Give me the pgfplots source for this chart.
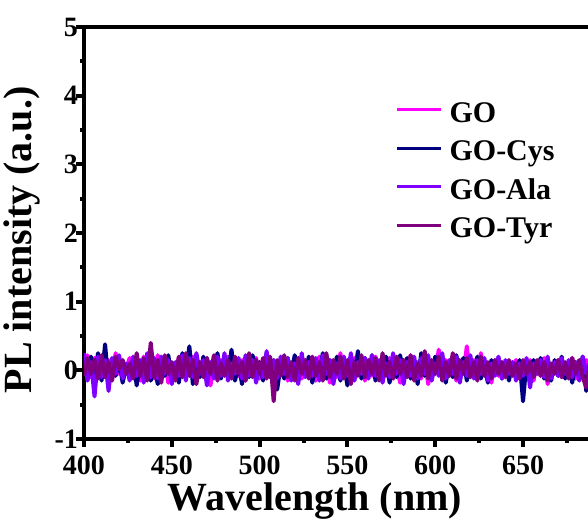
\documentclass[border=0pt]{standalone}
\usepackage{fontspec}
\setmainfont{Liberation Serif}
\usepackage{pgfplots}
\usepackage{pgfplotstable}
\pgfplotsset{compat=1.18}
\definecolor{cGO}{HTML}{FF00FF}
\definecolor{cCys}{HTML}{000080}
\definecolor{cAla}{HTML}{8000FF}
\definecolor{cTyr}{HTML}{800080}
\pgfplotstableread{
x GO Cys Ala Tyr
400 0.05 0.10 0.25 -0.08
402 0.22 -0.12 -0.15 0.18
404 -0.10 0.20 0.12 -0.05
406 0.18 -0.05 -0.38 0.15
408 -0.05 0.25 0.20 -0.12
410 0.20 -0.15 -0.10 0.22
412 -0.08 0.38 0.15 -0.10
414 0.15 -0.20 -0.30 0.12
416 -0.12 0.10 0.18 -0.15
418 0.25 -0.08 -0.05 0.20
420 -0.05 0.15 0.22 0.02
422 0.12 -0.18 -0.12 0.15
424 0.02 0.05 0.10 -0.05
426 0.18 -0.10 -0.15 0.10
428 -0.10 0.18 0.20 -0.12
430 0.10 -0.22 -0.08 0.25
432 -0.15 0.12 0.15 -0.08
434 0.20 -0.05 -0.18 0.18
436 -0.05 0.20 0.25 -0.15
438 0.12 -0.15 -0.10 0.40
440 -0.12 0.08 0.18 -0.10
442 0.22 -0.20 -0.12 0.15
444 -0.08 0.15 0.20 -0.18
446 0.15 -0.08 -0.05 0.22
448 -0.18 0.22 0.15 -0.05
450 0.10 -0.12 -0.20 0.12
452 -0.05 0.08 0.12 -0.15
454 0.18 -0.18 -0.08 0.20
456 -0.10 0.25 0.22 -0.10
458 0.15 -0.05 -0.15 0.25
460 -0.08 0.35 0.18 -0.08
462 0.20 -0.20 -0.10 0.15
464 -0.15 0.15 0.25 -0.20
466 0.12 -0.10 -0.05 0.12
468 -0.05 0.20 0.15 -0.10
470 0.18 -0.15 -0.22 0.18
472 -0.22 0.10 0.12 -0.05
474 0.08 -0.08 -0.12 0.22
476 -0.12 0.25 0.20 -0.15
478 0.15 -0.12 -0.08 0.10
480 -0.05 0.18 0.25 -0.08
482 0.20 -0.05 -0.15 0.15
484 -0.10 0.30 0.10 -0.12
486 0.12 -0.15 -0.05 0.20
488 -0.08 0.10 0.18 -0.05
490 0.15 -0.20 -0.12 0.12
492 -0.15 0.15 0.22 -0.15
494 0.10 -0.10 -0.08 0.25
496 -0.05 0.22 0.15 -0.10
498 0.18 -0.08 -0.18 0.15
500 -0.12 0.12 0.10 -0.05
502 0.08 -0.15 -0.10 0.18
504 -0.05 0.25 0.28 -0.12
506 0.15 -0.10 -0.08 0.20
508 -0.10 0.15 0.15 -0.45
510 0.12 -0.28 -0.12 0.15
512 -0.08 0.08 0.20 -0.08
514 0.20 -0.12 -0.05 0.22
516 -0.15 0.18 0.18 -0.10
518 0.10 -0.05 -0.15 0.12
520 -0.05 0.22 0.10 -0.15
522 0.18 -0.15 -0.20 0.18
524 -0.12 0.10 0.25 -0.05
526 0.15 -0.08 -0.10 0.15
528 -0.08 0.20 0.12 -0.12
530 0.12 -0.18 -0.08 0.20
532 -0.15 0.12 0.18 -0.08
534 0.20 -0.05 -0.15 0.12
536 -0.05 0.25 0.22 -0.15
538 0.10 -0.12 -0.05 0.25
540 -0.18 0.15 0.15 -0.10
542 0.15 -0.08 -0.20 0.15
544 -0.10 0.20 0.10 -0.05
546 0.25 -0.15 -0.12 0.20
548 -0.08 0.10 0.20 -0.12
550 0.12 -0.22 -0.08 0.15
552 -0.12 0.15 0.25 -0.20
554 0.18 -0.05 -0.15 0.12
556 -0.05 0.28 0.12 -0.08
558 0.15 -0.12 -0.05 0.22
560 -0.15 0.18 0.18 -0.10
562 0.10 -0.08 -0.12 0.15
564 -0.08 0.22 0.22 -0.05
566 0.20 -0.15 -0.08 0.18
568 -0.10 0.12 0.15 -0.15
570 0.12 -0.05 -0.18 0.25
572 -0.05 0.20 0.10 -0.08
574 0.18 -0.18 -0.10 0.12
576 -0.12 0.15 0.25 -0.12
578 0.10 -0.10 -0.05 0.20
580 -0.18 0.22 0.15 -0.05
582 0.15 -0.05 -0.20 0.15
584 -0.08 0.18 0.12 -0.10
586 0.22 -0.12 -0.08 0.22
588 -0.05 0.10 0.20 -0.15
590 0.12 -0.20 -0.12 0.10
592 -0.12 0.25 0.18 -0.08
594 0.18 -0.08 -0.05 0.28
596 -0.20 0.15 0.22 -0.12
598 0.10 -0.12 -0.15 0.15
600 -0.05 0.20 0.10 -0.05
602 0.30 -0.05 -0.08 0.20
604 -0.10 0.15 0.25 -0.15
606 0.15 -0.18 -0.12 0.12
608 -0.08 0.10 0.15 -0.08
610 0.20 -0.10 -0.05 0.25
612 -0.15 0.22 0.20 -0.12
614 0.12 -0.05 -0.18 0.15
616 -0.05 0.18 0.12 -0.05
618 0.35 -0.15 -0.08 0.18
620 -0.10 0.12 0.22 -0.10
622 0.15 -0.08 -0.12 0.12
624 -0.12 0.20 0.15 -0.15
626 0.25 -0.12 -0.05 0.20
628 -0.05 0.08 0.18 -0.08
630 0.10 -0.18 -0.15 0.12
632 -0.18 0.15 0.10 -0.12
634 0.15 -0.05 -0.08 0.15
636 -0.08 0.18 0.20 -0.05
638 0.12 -0.12 -0.12 0.12
640 -0.10 0.10 0.15 -0.10
642 0.08 -0.15 -0.05 0.15
644 -0.05 0.12 0.12 -0.08
646 0.15 -0.08 -0.15 0.10
648 -0.12 0.15 0.10 -0.12
650 0.10 -0.45 -0.08 0.15
652 -0.05 0.12 0.18 -0.05
654 0.15 -0.10 -0.25 0.12
656 -0.15 0.15 0.10 -0.10
658 0.12 -0.05 -0.05 0.15
660 -0.08 0.18 0.15 -0.08
662 0.18 -0.12 -0.10 0.12
664 -0.20 0.10 0.20 -0.15
666 0.10 -0.15 -0.12 0.10
668 -0.05 0.15 0.12 -0.05
670 0.15 -0.08 -0.08 0.15
672 -0.10 0.20 0.18 -0.10
674 0.08 -0.12 -0.05 0.12
676 -0.05 0.10 0.15 -0.12
678 0.18 -0.18 -0.10 0.18
680 -0.12 0.12 0.12 -0.05
682 0.10 -0.05 -0.15 0.15
684 -0.08 0.20 0.20 -0.10
686 0.15 -0.30 -0.05 -0.25
688 0.05 0.10 0.10 0.10
}\data
\begin{document}
\begin{tikzpicture}
\begin{axis}[
  scale only axis, width=252pt, height=206pt,
  xmin=400, xmax=687, ymin=-1, ymax=5,
  axis x line=box, axis y line=left,
  axis line style={line width=2.4pt,-},
  xtick pos=bottom,
  xtick={400,450,500,550,600,650},
  xticklabels={400,450,500,550,600,650},
  minor xtick={425,475,525,575,625,675},
  ytick={-1,0,1,2,3,4,5},
  yticklabels={-1,0,1,2,3,4,5},
  minor ytick={-0.5,0.5,1.5,2.5,3.5,4.5},
  tick align=outside,
  major tick length=4pt, minor tick length=2pt,
  every tick/.style={line width=2pt,black},
  every minor tick/.style={line width=2pt,black},
  tick label style={font=\fontsize{14}{16}\selectfont\bfseries},
  yticklabel style={xshift=4.5pt},
  xticklabel style={yshift=-1pt},
  xlabel={Wavelength (nm)},
  ylabel={PL intensity (a.u.)},
  label style={font=\fontsize{20}{24}\selectfont\bfseries},
  xlabel style={at={(0.458,0)},anchor=center,yshift=-31pt},
  ylabel style={at={(0,0.483)},anchor=center,yshift=31pt},
  legend style={at={(0.617,0.823)},anchor=north west,draw=none,fill=none,inner sep=0pt,
    font=\fontsize{15}{18}\selectfont\bfseries,
    nodes={inner sep=0pt,text height=11pt,text depth=3.5pt},
    row sep=4.75pt,
    /tikz/every odd column/.append style={column sep=3.5pt}},
  legend cell align=left,
  legend image code/.code={\draw[#1,line width=1.6pt] (0pt,2.5pt) -- (22pt,2.5pt);},
  every axis plot/.append style={line width=2pt,line join=round},
]
\addplot[cGO] table[x=x,y=GO]{\data};
\addplot[cCys] table[x=x,y=Cys]{\data};
\addplot[cAla] table[x=x,y=Ala]{\data};
\addplot[cTyr] table[x=x,y=Tyr]{\data};
\legend{GO,GO-Cys,GO-Ala,GO-Tyr}
\end{axis}
\pgfresetboundingbox
\path[use as bounding box] (-42pt,-41pt) rectangle (252pt,219.5pt);
\end{tikzpicture}
\end{document}
